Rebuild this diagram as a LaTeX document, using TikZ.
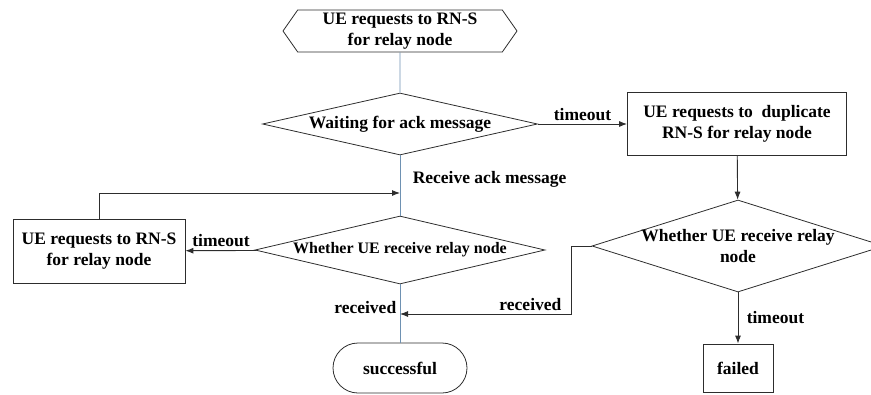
\documentclass[tikz,border=0pt]{standalone}
\usepackage{fontspec}
\setmainfont{Liberation Serif}
\usetikzlibrary{shapes.geometric,shapes.symbols,shapes.misc,arrows.meta}

\definecolor{flowblue}{RGB}{110,145,178}
\definecolor{flowgray}{RGB}{45,45,45}

\tikzset{
  ->/.style={draw=flowgray,line width=0.9pt,-{Latex[length=8pt,width=6pt]}},
  flow/.style={draw=flowblue,line width=0.9pt},
  startbox/.style={signal,signal to=west and east,signal pointer angle=110,draw=flowgray,line width=0.8pt,inner sep=0pt,align=center},
  decision/.style={diamond,draw=flowgray,line width=0.8pt,inner sep=0pt,align=center},
  process/.style={rectangle,draw=flowgray,line width=0.8pt,inner sep=0pt,align=center},
  terminal/.style={rounded rectangle,draw=flowgray,line width=0.8pt,inner sep=0pt,align=center}
}
\tikzstyle{every node}=[color=black,font=\bfseries\fontsize{17.5}{21}\selectfont]

\begin{document}
\begin{tikzpicture}[x=1pt,y=-1pt]
    \useasboundingbox (0,0) rectangle (871,394);
    \node[startbox,minimum width=234pt,minimum height=42pt] (start) at (400,31) {UE requests to RN-S\\for relay node};
    \node[decision,aspect=4.4,minimum width=275pt,minimum height=62pt] (wait) at (400,124) {Waiting for ack message};
    \node[process,minimum width=219pt,minimum height=63pt] (dup) at (737,124) {UE requests to\ \ duplicate\\RN-S for relay node};
    \node[decision,aspect=4.3,minimum width=290pt,minimum height=68pt,font=\bfseries\fontsize{16}{19}\selectfont] (check) at (400,250) {Whether UE receive relay node};
    \node[process,minimum width=172pt,minimum height=64pt] (retry) at (99,251) {UE requests to RN-S\\for relay node};
    \node[decision,aspect=3.17,inner xsep=-9pt,inner ysep=-2pt,minimum width=292pt,minimum height=92pt] (check2) at (738,246) {Whether UE receive relay\\node};
    \node[terminal,minimum width=134pt,minimum height=50pt] (ok) at (400,368) {successful};
    \node[process,minimum width=70pt,minimum height=48pt] (fail) at (738,368) {failed};
    \coordinate (loop) at (400,193);
    \coordinate (join) at (400,314);
    \draw [flow] (start) -- (wait);
    \draw [flow] (wait) -- node[right=9pt,pos=0.4] {Receive ack message} (check);
    \draw [flow] (check) -- node[left,pos=0.4] {received} (ok);
    \draw [->] (wait) -- node[above] {timeout} (dup);
    \draw [->] (dup) -- (check2);
    \draw [->] (check2) -- node[right=5pt] {timeout} (fail);
    \draw [->] (check2.west) -- ++(-20,0) |- node[above,pos=0.62] {received} (join);
    \draw [->] (check) -- node[above] {timeout} (retry);
    \draw [->] (retry.north) |- (loop);
\end{tikzpicture}
\end{document}
